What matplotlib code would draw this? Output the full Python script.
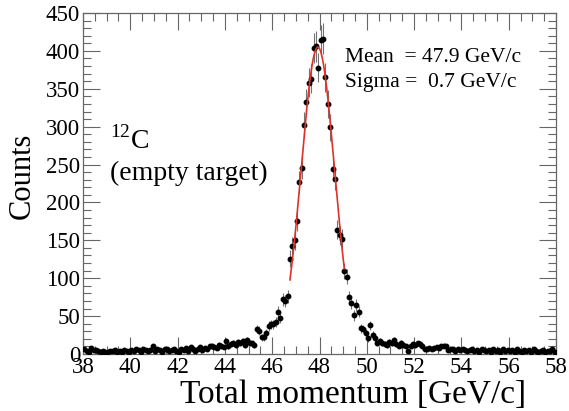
import numpy as np
import matplotlib
matplotlib.use("Agg")
import matplotlib.pyplot as plt
from matplotlib.ticker import MultipleLocator

plt.rcParams['font.family'] = ['Liberation Serif', 'DejaVu Serif']
plt.rcParams['mathtext.fontset'] = 'custom'
plt.rcParams['mathtext.rm'] = 'Liberation Serif'

# histogram: 200 bins of 0.1 GeV/c from 38 to 58
bin_lo = 38.0
bin_hi = 58.0
counts_38_40 = [6, 4, 3, 8, 5, 5, 4, 3, 4, 3, 3, 4, 4, 5, 3, 4, 3, 5, 4, 3]
counts_40_42 = [5, 4, 7, 5, 3, 6, 5, 4, 5, 10, 4, 6, 5, 3, 6, 7, 4, 5, 6, 4]
counts_42_44 = [3, 7, 5, 8, 4, 9, 6, 4, 7, 9, 5, 8, 7, 10, 11, 9, 8, 12, 11, 9]
counts_44_46 = [17, 10, 13, 15, 12, 16, 14, 17, 12, 18, 15, 14, 12, 33, 31, 22, 22, 28, 37, 39]
counts_46_48 = [39, 42, 56, 48, 72, 70, 76, 126, 142, 150, 175, 227, 246, 302, 332, 358, 363, 404, 406, 378]
counts_48_50 = [414, 416, 365, 330, 299, 244, 231, 164, 157, 152, 110, 102, 75, 67, 51, 65, 56, 34, 33, 28]
counts_50_52 = [21, 38, 25, 21, 14, 17, 15, 13, 12, 16, 14, 18, 13, 11, 15, 12, 10, 4, 11, 13]
counts_52_54 = [12, 14, 13, 10, 7, 6, 8, 7, 8, 9, 8, 10, 11, 10, 5, 6, 7, 4, 6, 5]
counts_54_56 = [6, 5, 4, 5, 6, 4, 5, 3, 6, 5, 4, 5, 3, 6, 4, 5, 3, 7, 4, 5]
counts_56_58 = [4, 5, 3, 6, 4, 3, 5, 4, 5, 3, 6, 4, 3, 4, 5, 3, 4, 4, 6, 2]

# gaussian fit
fit_amp = 405.0
fit_mean = 47.93
fit_sigma = 0.70
fit_lo = 46.75
fit_hi = 49.05

counts = np.array(counts_38_40 + counts_40_42 + counts_42_44 + counts_44_46 + counts_46_48
                  + counts_48_50 + counts_50_52 + counts_52_54 + counts_54_56 + counts_56_58, dtype=float)
edges = np.linspace(bin_lo, bin_hi, len(counts) + 1)
centers = 0.5 * (edges[:-1] + edges[1:])
errors = np.sqrt(counts)

fig = plt.figure(figsize=(5.69, 4.11), dpi=100)
ax = fig.add_axes([83 / 569, 57 / 411, (556 - 83) / 569, (354 - 13) / 411])

ax.errorbar(centers, counts, yerr=errors, fmt='o', color='black', ms=3.2,
            ecolor='0.45', elinewidth=0.8, capsize=0, zorder=3)

xf = np.linspace(fit_lo, fit_hi, 300)
yf = fit_amp * np.exp(-0.5 * ((xf - fit_mean) / fit_sigma) ** 2)
ax.plot(xf, yf, color='#e0302a', lw=1.2, zorder=4)

ax.set_xlim(bin_lo, bin_hi)
ax.set_ylim(0, 450)
ax.xaxis.set_major_locator(MultipleLocator(2))
ax.xaxis.set_minor_locator(MultipleLocator(0.5))
ax.yaxis.set_major_locator(MultipleLocator(50))
ax.yaxis.set_minor_locator(MultipleLocator(10))
ax.tick_params(which='both', direction='in', top=True, right=True, color='0.4',
               labelsize=16.5, pad=2)
ax.tick_params(which='major', length=12, width=0.8)
ax.tick_params(which='minor', length=6, width=0.8)
for s in ax.spines.values():
    s.set_color('0.4')
    s.set_linewidth(0.9)

fig.text(180 / 569, 1 - 395 / 411, 'Total momentum [GeV/c]', fontsize=24, ha='left', va='center')
fig.text(22 / 569, 1 - 176 / 411, 'Counts', fontsize=22, rotation=90, ha='center', va='center')

fig.text(110 / 569, 1 - 140 / 411, r'$^{12}$C', fontsize=20, ha='left', va='center')
fig.text(110 / 569, 1 - 173 / 411, '(empty target)', fontsize=20, ha='left', va='center')

fig.text(345 / 569, 1 - 57 / 411, 'Mean  = 47.9 GeV/c', fontsize=15.5, ha='left', va='center')
fig.text(345 / 569, 1 - 82 / 411, 'Sigma =  0.7 GeV/c', fontsize=15.5, ha='left', va='center')

fig.savefig('out.png', dpi=100)
